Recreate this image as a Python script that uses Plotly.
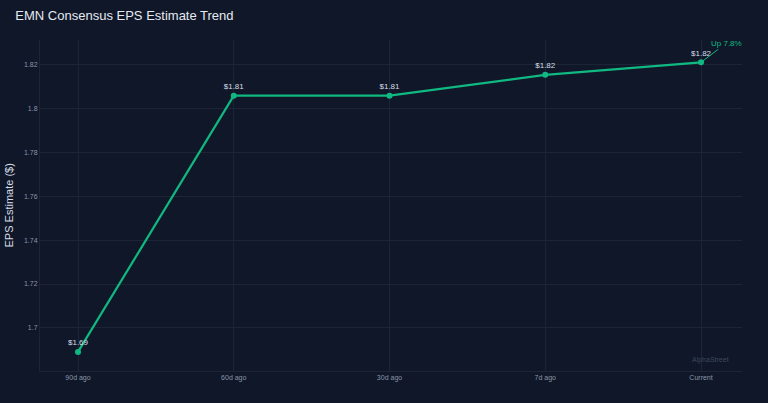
import plotly.graph_objects as go

periods = ["90d ago", "60d ago", "30d ago", "7d ago", "Current"]
eps = [1.689, 1.806, 1.806, 1.8155, 1.8212]
eps_labels = ["$1.69", "$1.81", "$1.81", "$1.82", "$1.82"]
change_text = "Up 7.8%"
y_title = "EPS Estimate ($)"

bg = "#0f1729"
grid = "#1c2536"
teal = "#10b981"

fig = go.Figure(go.Scatter(
    x=periods,
    y=eps,
    mode="lines+markers+text",
    text=eps_labels,
    textposition="top center",
    textfont={"size": 8, "color": "#d7dde6"},
    line={"color": teal, "width": 2.2},
    marker={"size": 6, "color": teal},
    hoverinfo="skip"))

fig.add_annotation(
    x=periods[-1], y=eps[-1], text=change_text,
    showarrow=True, arrowhead=0, arrowwidth=1, arrowcolor=teal,
    ax=25, ay=-19,
    font={"size": 8, "color": teal})

fig.add_annotation(
    x=0.985, y=0.015, xref="paper", yref="paper", text="AlphaStreet",
    showarrow=False, xanchor="right", yanchor="bottom",
    font={"size": 7, "color": "#3e495c"})

# y axis title placed by hand, closer to the edge than plotly puts it
fig.add_annotation(
    x=0, y=0.5, xref="paper", yref="paper", text=y_title, textangle=-90,
    showarrow=False, xshift=-32, xanchor="center", yanchor="middle",
    font={"size": 11, "color": "#d7dde6"})

fig.update_layout(
    width=768, height=403,
    title={"text": "EMN Consensus EPS Estimate Trend", "x": 0.02, "y": 0.962,
           "xanchor": "left", "yanchor": "middle",
           "font": {"size": 13, "color": "#e5e9f0", "family": "Liberation Sans, Arial"}},
    paper_bgcolor=bg, plot_bgcolor=bg,
    font={"family": "Liberation Sans, Arial", "color": "#8c96a6", "size": 8},
    margin={"l": 40, "r": 26, "t": 40, "b": 32},
    showlegend=False,
    xaxis={"range": [-0.244, 4.263], "showgrid": True, "gridcolor": grid,
           "showline": True, "linecolor": grid, "zeroline": False,
           "tickfont": {"size": 7, "color": "#8c96a6"}, "ticks": ""},
    yaxis={"range": [1.6803, 1.8314], "showgrid": True, "gridcolor": grid,
           "showline": True, "linecolor": grid, "zeroline": False,
           "automargin": False,
           "dtick": 0.02, "tickfont": {"size": 7, "color": "#8c96a6"}})

# drop the page margin so the figure fills the window
fig.write_html("out.html", config={"displayModeBar": False},
               post_script="document.body.style.margin='0';")
